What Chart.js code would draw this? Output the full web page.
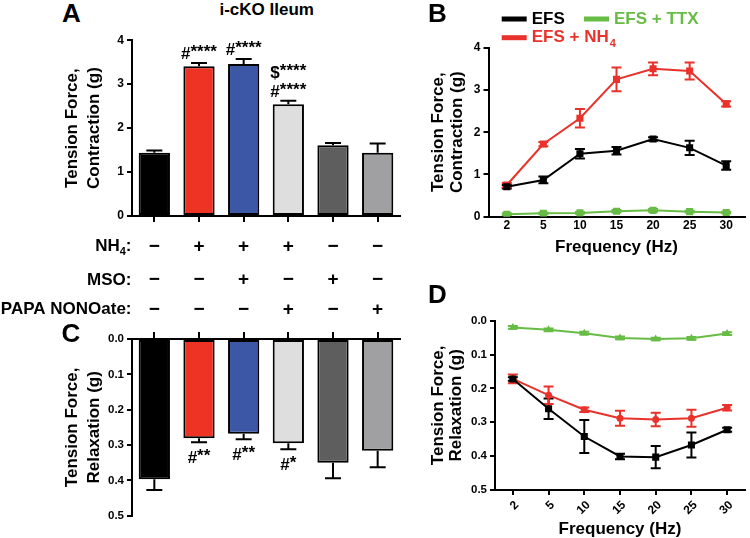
<!DOCTYPE html>
<html>
<head>
<meta charset="utf-8">
<script src="https://cdn.jsdelivr.net/npm/chart.js@4.4.0/dist/chart.umd.min.js"></script>
<style>
  body { margin: 0; background: #fff; width: 750px; height: 538px; position: relative; overflow: hidden;
         font-family: "Liberation Sans", Arial, sans-serif; }
  canvas { position: absolute; }
  .lbl { position: absolute; font-weight: bold; color: #000; line-height: 1; white-space: nowrap;
         transform: translate(-50%, -50%); }
  .letter { font-size: 26px; }
</style>
</head>
<body>
<canvas id="chartA" width="405" height="290" style="left:0;top:30px"></canvas>
<canvas id="chartC" width="405" height="218" style="left:0;top:320px"></canvas>
<canvas id="chartB" width="330" height="260" style="left:420px;top:0"></canvas>
<canvas id="chartD" width="330" height="260" style="left:420px;top:280px"></canvas>

<div class="lbl letter" style="left:71.5px;top:12.5px">A</div>
<div class="lbl" style="left:266.7px;top:9px;font-size:17px">i-cKO Ileum</div>
<div class="lbl letter" style="left:437.5px;top:13px">B</div>
<div class="lbl letter" style="left:71px;top:332.5px">C</div>
<div class="lbl letter" style="left:437.5px;top:294px">D</div>

<script>
// panels A / C : treatment groups
const groups = ['Control', 'NH4', 'NH4 + MSO', 'NH4 + PAPA NONOate', 'MSO', 'PAPA NONOate'];
const groupColors = ['#000000', '#EE3224', '#3B57A6', '#DEDEDE', '#5E5E5E', '#A0A0A3'];
const contraction = [1.44, 3.41, 3.46, 2.54, 1.61, 1.44];
const contractionErr = [0.05, 0.07, 0.11, 0.08, 0.05, 0.21];
const contractionSig = ['', '#****', '#****', '$****\n#****', '', ''];
const relaxation = [0.397, 0.281, 0.268, 0.295, 0.350, 0.316];
const relaxationErr = [0.030, 0.011, 0.016, 0.017, 0.044, 0.047];
const relaxationSig = ['', '#**', '#**', '#*', '', ''];
const rowNH4 = ['−', '+', '+', '+', '−', '−'];
const rowMSO = ['−', '−', '+', '−', '+', '−'];
const rowPAPA = ['−', '−', '−', '+', '−', '+'];

// panels B / D : frequency response
const freqs = ['2', '5', '10', '15', '20', '25', '30'];
const efsContr = [0.71, 0.87, 1.49, 1.56, 1.84, 1.63, 1.21];
const efsContrErr = [0.04, 0.08, 0.11, 0.09, 0.04, 0.17, 0.10];
const ttxContr = [0.06, 0.08, 0.09, 0.13, 0.15, 0.12, 0.10];
const ttxContrErr = [0.02, 0.02, 0.02, 0.03, 0.03, 0.02, 0.02];
const nh4Contr = [0.75, 1.72, 2.33, 3.25, 3.50, 3.45, 2.67];
const nh4ContrErr = [0.05, 0.05, 0.22, 0.28, 0.15, 0.20, 0.06];
const efsRelax = [0.172, 0.260, 0.342, 0.401, 0.403, 0.367, 0.322];
const efsRelaxErr = [0.005, 0.030, 0.049, 0.008, 0.033, 0.037, 0.006];
const ttxRelax = [0.020, 0.027, 0.037, 0.051, 0.054, 0.052, 0.038];
const ttxRelaxErr = [0.004, 0.004, 0.004, 0.004, 0.004, 0.004, 0.004];
const nh4Relax = [0.172, 0.220, 0.263, 0.288, 0.292, 0.288, 0.257];
const nh4RelaxErr = [0.013, 0.026, 0.007, 0.022, 0.020, 0.025, 0.008];

const BLACK = '#000000', RED = '#E8322B', GREEN = '#67BC45';
const FONT = '"Liberation Sans", Arial, sans-serif';

Chart.defaults.font.family = FONT;
Chart.defaults.font.weight = 'bold';
Chart.defaults.color = '#000';
Chart.defaults.animation = false;

// error bars, drawn from the y scale of each chart
const errorBars = {
  id: 'errorBars',
  beforeDatasetsDraw(chart, args, opts) { if (opts.behind) draw(chart, opts); },
  afterDatasetsDraw(chart, args, opts) { if (!opts.behind) draw(chart, opts); }
};
function draw(chart, opts) {
  const ctx = chart.ctx, y = chart.scales.y;
  chart.data.datasets.forEach((ds, di) => {
    if (!ds.errors) return;
    const meta = chart.getDatasetMeta(di);
    ctx.save();
    ctx.strokeStyle = ds.errorColor || BLACK;
    ctx.lineWidth = opts.width;
    meta.data.forEach((el, i) => {
      const v = ds.data[i], e = ds.errors[i], h = opts.cap / 2;
      const yHi = y.getPixelForValue(v + e);
      const yLo = opts.oneSided ? y.getPixelForValue(v) : y.getPixelForValue(v - e);
      ctx.beginPath();
      ctx.moveTo(el.x, yLo); ctx.lineTo(el.x, yHi);
      ctx.moveTo(el.x - h, yHi); ctx.lineTo(el.x + h, yHi);
      if (!opts.oneSided) { ctx.moveTo(el.x - h, yLo); ctx.lineTo(el.x + h, yLo); }
      ctx.stroke();
    });
    ctx.restore();
  });
}

// significance marks over / under the bars
function drawSig(ctx, s, cx, base) {
  const head = s[0], tail = s.slice(1);
  const w1 = ctx.measureText(head).width, w2 = ctx.measureText(tail).width;
  const x = cx - (w1 + w2) / 2;
  ctx.fillText(head, x, base);
  ctx.fillText(tail, x + w1, base - 2);
}
const sigMarks = {
  id: 'sigMarks',
  afterDatasetsDraw(chart, args, opts) {
    const ctx = chart.ctx, y = chart.scales.y;
    const ds = chart.data.datasets[0], meta = chart.getDatasetMeta(0);
    ctx.save();
    ctx.fillStyle = BLACK;
    ctx.font = 'bold 17px ' + FONT;
    ctx.textAlign = 'left';
    ctx.textBaseline = 'alphabetic';
    meta.data.forEach((el, i) => {
      if (!opts.labels[i]) return;
      const lines = opts.labels[i].split('\n');
      const yEnd = y.getPixelForValue(ds.data[i] + ds.errors[i]);
      lines.forEach((line, k) => {
        const base = opts.below ? yEnd + 21 + k * 19 : yEnd - 4 - (lines.length - 1 - k) * 19;
        drawSig(ctx, line, el.x, base);
      });
    });
    ctx.restore();
  }
};

// +/- treatment table under panel A
const treatmentRows = {
  id: 'treatmentRows',
  afterDraw(chart, args, opts) {
    const ctx = chart.ctx, x = chart.scales.x;
    const right = chart.chartArea.left - 0.5;
    ctx.save();
    ctx.fillStyle = BLACK;
    ctx.textBaseline = 'middle';
    opts.rows.forEach((row, r) => {
      const yy = opts.y[r];
      ctx.font = 'bold 17px ' + FONT;
      ctx.textAlign = 'right';
      if (row.sub) {
        const wColon = ctx.measureText(':').width;
        ctx.fillText(':', right, yy);
        ctx.font = 'bold 11px ' + FONT;
        const wSub = ctx.measureText(row.sub).width;
        ctx.fillText(row.sub, right - wColon, yy + 5);
        ctx.font = 'bold 17px ' + FONT;
        ctx.fillText(row.label, right - wColon - wSub, yy);
      } else {
        ctx.fillText(row.label + ':', right, yy);
      }
      ctx.textAlign = 'center';
      ctx.font = 'bold 19px ' + FONT;
      row.signs.forEach((s, i) => ctx.fillText(s, x.getPixelForValue(i), yy));
    });
    ctx.restore();
  }
};

// legend for panel B
const freqLegend = {
  id: 'freqLegend',
  afterDraw(chart, args, opts) {
    const ctx = chart.ctx;
    ctx.save();
    ctx.textBaseline = 'middle';
    ctx.textAlign = 'left';
    opts.items.forEach(it => {
      const ds = chart.data.datasets[it.dataset];
      const [main, sub] = ds.label.split('_');
      ctx.fillStyle = ds.borderColor;
      ctx.fillRect(it.x, it.y - 2.5, 25, 5);
      ctx.font = 'bold 17px ' + FONT;
      ctx.fillText(main, it.x + 30, it.y);
      if (sub) {
        const w = ctx.measureText(main).width;
        ctx.font = 'bold 11px ' + FONT;
        ctx.fillText(sub, it.x + 31 + w, it.y + 6);
      }
    });
    ctx.restore();
  }
};

function yScale(o) {
  return {
    min: 0, max: o.max, reverse: !!o.reverse,
    ticks: { stepSize: o.step, font: { size: o.tickSize }, padding: 3,
             callback: v => o.digits ? v.toFixed(o.digits) : v },
    grid: { drawOnChartArea: false, drawTicks: true, tickLength: 5, color: BLACK, lineWidth: 2 },
    border: { display: true, color: BLACK, width: 2 },
    title: { display: true, text: o.title, font: { size: 17, lineHeight: o.lh }, padding: { top: o.tp, bottom: 0 } },
    afterFit: s => { s.width = o.width; }
  };
}

function barChart(id, values, errors, sigs, opts) {
  const plugins = [errorBars, sigMarks];
  if (opts.rows) plugins.push(treatmentRows);
  return new Chart(document.getElementById(id), {
    type: 'bar',
    data: {
      labels: groups,
      datasets: [{
        data: values, errors: errors,
        backgroundColor: groupColors, borderColor: BLACK, borderWidth: 2, borderSkipped: false,
        barPercentage: 0.7, categoryPercentage: 1
      }]
    },
    options: {
      responsive: false,
      layout: { padding: opts.padding },
      plugins: {
        legend: { display: false }, tooltip: { enabled: false },
        errorBars: { oneSided: true, cap: 16, width: 2 },
        sigMarks: { labels: sigs, below: opts.below },
        treatmentRows: opts.rows || {}
      },
      scales: {
        x: {
          position: opts.xPos,
          ticks: { display: false },
          grid: { offset: false, drawOnChartArea: false, drawTicks: true, tickLength: opts.tickLen, color: BLACK, lineWidth: 2 },
          border: { display: true, color: BLACK, width: 2 },
          afterFit: s => { s.height = opts.xHeight; }
        },
        y: yScale(opts.y)
      }
    },
    plugins: plugins
  });
}

function lineSet(label, values, errors, color, style, radius) {
  return {
    label: label, data: values, errors: errors, errorColor: color,
    borderColor: color, backgroundColor: color, borderWidth: 2,
    pointStyle: style, pointRadius: radius, pointBorderWidth: 0, tension: 0
  };
}

function lineChart(id, sets, opts) {
  const plugins = [errorBars];
  if (opts.legend) plugins.push(freqLegend);
  return new Chart(document.getElementById(id), {
    type: 'line',
    data: { labels: freqs, datasets: sets },
    options: {
      responsive: false,
      layout: { padding: opts.padding },
      plugins: {
        legend: { display: false }, tooltip: { enabled: false },
        errorBars: { oneSided: false, cap: 10, width: 2, behind: true },
        freqLegend: opts.legend || {}
      },
      scales: {
        x: {
          offset: true,
          ticks: { font: { size: 12 }, padding: opts.xPad, minRotation: opts.rot, maxRotation: opts.rot, labelOffset: opts.rot ? 4 : 0 },
          grid: { offset: false, drawOnChartArea: false, drawTicks: opts.xTicks, tickLength: 5, color: BLACK, lineWidth: 2 },
          border: { display: true, color: BLACK, width: 2 },
          title: { display: true, text: 'Frequency (Hz)', font: { size: 17, lineHeight: 1.2 }, padding: { top: 0, bottom: opts.titlePad } },
          afterFit: s => { s.height = opts.xHeight; }
        },
        y: yScale(opts.y)
      }
    },
    plugins: plugins
  });
}

// A
barChart('chartA', contraction, contractionErr, contractionSig, {
  padding: { top: 8, right: 5, bottom: 0, left: 0 },
  xPos: 'bottom', tickLen: 6, xHeight: 104, below: false,
  y: { max: 4, step: 1, tickSize: 12, digits: 0, title: ['Tension Force,', 'Contraction (g)'], lh: 1.26, tp: 61.8, width: 132 },
  rows: {
    rows: [
      { label: 'NH', sub: '4', signs: rowNH4 },
      { label: 'MSO', signs: rowMSO },
      { label: 'PAPA NONOate', signs: rowPAPA }
    ],
    y: [216.7, 250, 279.3]
  }
});

// C
barChart('chartC', relaxation, relaxationErr, relaxationSig, {
  padding: { top: 9, right: 5, bottom: 22.3, left: 0 },
  xPos: 'top', tickLen: 7, xHeight: 10, below: true,
  y: { max: 0.5, step: 0.1, reverse: true, tickSize: 11.5, digits: 1, title: ['Tension Force,', 'Relaxation (g)'], lh: 1.26, tp: 61.8, width: 132 }
});

// B
lineChart('chartB', [
  lineSet('EFS', efsContr, efsContrErr, BLACK, 'rect', 5),
  lineSet('EFS + TTX', ttxContr, ttxContrErr, GREEN, 'rect', 5),
  lineSet('EFS + NH_4', nh4Contr, nh4ContrErr, RED, 'rect', 5)
], {
  padding: { top: 47.7, right: 5.5, bottom: 0, left: 0 },
  xHeight: 43.3, xPad: 2, xTicks: false, rot: 0, titlePad: 2.3,
  y: { max: 4, step: 1, tickSize: 12, digits: 0, title: ['Tension Force,', 'Contraction (g)'], lh: 1.1, tp: 9, width: 68.5 },
  legend: { items: [
    { dataset: 0, x: 81.7, y: 19 },
    { dataset: 1, x: 164, y: 19 },
    { dataset: 2, x: 81.7, y: 37.7 }
  ] }
});

// D
lineChart('chartD', [
  lineSet('EFS', efsRelax, efsRelaxErr, BLACK, 'rect', 5),
  lineSet('EFS + TTX', ttxRelax, ttxRelaxErr, GREEN, 'triangle', 4.5),
  lineSet('EFS + NH_4', nh4Relax, nh4RelaxErr, RED, 'circle', 3.5)
], {
  padding: { top: 40.7, right: 0, bottom: 0, left: 0 },
  xHeight: 50, xPad: 3, xTicks: true, rot: 45, titlePad: 0.6,
  y: { max: 0.5, step: 0.1, reverse: true, tickSize: 11.5, digits: 1, title: ['Tension Force,', 'Relaxation (g)'], lh: 1.1, tp: 8.6, width: 75 }
});
</script>
</body>
</html>
